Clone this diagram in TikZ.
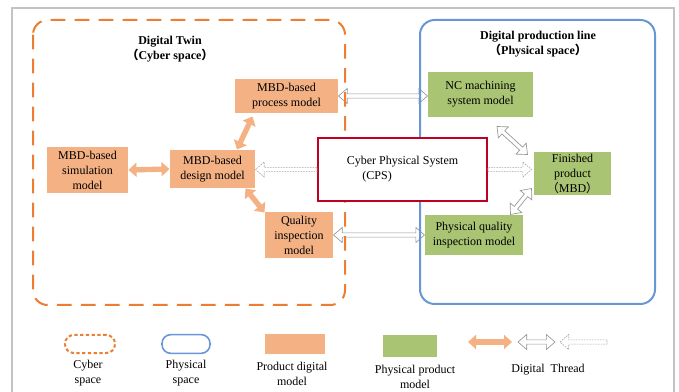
\documentclass[tikz,border=0pt]{standalone}
\usepackage{fontspec}
\setmainfont{Liberation Serif}
\newfontfamily\cjk{Noto Sans CJK SC}
\usetikzlibrary{arrows.meta,calc}

\definecolor{cyberorange}{RGB}{237,125,49}
\definecolor{digorange}{RGB}{244,177,131}
\definecolor{physgreen}{RGB}{169,196,115}
\definecolor{physblue}{RGB}{105,150,215}
\definecolor{cpsred}{RGB}{192,0,32}
\definecolor{threadgray}{RGB}{150,150,150}
\definecolor{framegray}{RGB}{195,195,195}

\newcommand{\figfont}{\fontsize{9}{11.25}\selectfont}
\newcommand{\lp}{{\cjk （}}
\newcommand{\rp}{{\cjk ）}}

% outlined block arrow, heads at both ends
\newcommand{\dblarrow}[3][]{%
  \draw [#1] (#2)
    -- ($($(#2)!6.5pt!(#3)$)!5.6pt!90:(#3)$)
    -- ($($(#2)!6.5pt!(#3)$)!1.6pt!90:(#3)$)
    -- ($($(#3)!6.5pt!(#2)$)!1.6pt!90:(#3)$)
    -- ($($(#3)!6.5pt!(#2)$)!5.6pt!90:(#3)$)
    -- (#3)
    -- ($($(#3)!6.5pt!(#2)$)!5.6pt!-90:(#3)$)
    -- ($($(#3)!6.5pt!(#2)$)!1.6pt!-90:(#3)$)
    -- ($($(#2)!6.5pt!(#3)$)!1.6pt!-90:(#3)$)
    -- ($($(#2)!6.5pt!(#3)$)!5.6pt!-90:(#3)$)
    -- cycle ;}
% outlined block arrow, head at the second end
\newcommand{\sglarrow}[3][]{%
  \draw [#1] ($(#2)!1.6pt!90:(#3)$)
    -- ($($(#3)!6.5pt!(#2)$)!1.6pt!90:(#3)$)
    -- ($($(#3)!6.5pt!(#2)$)!5.6pt!90:(#3)$)
    -- (#3)
    -- ($($(#3)!6.5pt!(#2)$)!5.6pt!-90:(#3)$)
    -- ($($(#3)!6.5pt!(#2)$)!1.6pt!-90:(#3)$)
    -- ($(#2)!1.6pt!-90:(#3)$)
    -- cycle ;}

\tikzset{every picture/.style={line width=0.75pt}}
\tikzset{
  digbox/.style={fill=digorange, inner sep=0pt, align=center, font=\figfont},
  physbox/.style={fill=physgreen, inner sep=0pt, align=center, font=\figfont},
  legtext/.style={align=center, font=\figfont},
  titletext/.style={align=center, font=\figfont\bfseries},
  digarrow/.style={draw=digorange, line width=4pt,
    {Triangle[length=6pt,width=10.5pt]}-{Triangle[length=6pt,width=10.5pt]}},
  hollowarrow/.style={draw=threadgray, line width=0.5pt, line join=miter},
  dotarrow/.style={draw=threadgray!85, line width=0.5pt, line join=miter,
    dash pattern=on 1.2pt off 0.8pt}
}

\begin{document}
\begin{tikzpicture}[x=0.75pt,y=0.75pt,yscale=-1,xscale=1]
\useasboundingbox (0,0) rectangle (679,392);

%Frame
\draw [framegray, line width=1pt] (12,392) -- (12,8) -- (674,8) -- (674,392) ;

%Shape: Rectangle
\draw (286.5,96) node (proc) [digbox, minimum width=77.25pt, minimum height=25.5pt] {MBD-based\\process model};
%Shape: Rectangle
\draw (87.5,170) node (sim) [digbox, minimum width=60.75pt, minimum height=34.5pt] {MBD-based\\simulation\\model};
%Shape: Rectangle
\draw (212.5,169) node (design) [digbox, minimum width=63.75pt, minimum height=28.5pt] {MBD-based\\design model};
%Shape: Rectangle
\draw (299,235) node (qual) [digbox, minimum width=51pt, minimum height=34.5pt] {Quality\\inspection\\model};

%Shape: Rectangle
\draw (480.5,94.5) node (nc) [physbox, minimum width=78.75pt, minimum height=33.75pt] {NC machining\\system model};
%Shape: Rectangle
\draw (572.5,173.5) node (fin) [physbox, minimum width=57.75pt, minimum height=32.25pt] {Finished\\product\\\lp MBD\rp};
%Shape: Rectangle
\draw (474,235) node (pqual) [physbox, minimum width=73.5pt, minimum height=30pt] {Physical quality\\inspection model};

%Hollow links (drawn under the space borders)
\coordinate (pn) at (proc.east -| nc.west);
\coordinate (qp) at (qual.east -| pqual.west);
\dblarrow[hollowarrow]{proc.east}{pn}
\dblarrow[hollowarrow]{qual.east}{qp}

%Shape: Cyber space
\draw [cyberorange, line width=1.5pt, dash pattern=on 11pt off 7pt, rounded corners=11pt] (33,20) rectangle (345,305) ;
%Shape: Physical space
\draw [physblue, line width=1.5pt, rounded corners=11pt] (420,20) rectangle (655,304) ;

% Text Node
\draw (170,49) node (twin) [titletext] {Digital Twin\\\lp Cyber space\rp};
% Text Node
\draw (538,44) node (line) [titletext] {Digital production line\\\lp Physical space\rp};

%Shape: CPS
\draw (402.5,169.5) node (cps) [draw=cpsred, line width=1.5pt, fill=white, minimum width=126.75pt, minimum height=47.25pt, align=left, font=\figfont] {Cyber Physical System\\\hspace{1.3em}(CPS)};

%Digital thread
\coordinate (dp1) at ($(design.north)+(24.5,0)$);
\coordinate (dp2) at ($(proc.south)+(-34,3)$);
\coordinate (dq1) at ($(design.south east)+(-10,0)$);
\coordinate (dq2) at ($(qual.north west)+(0,1)$);
\coordinate (nf1) at ($(nc.south)+(16.5,9)$);
\coordinate (nf2) at ($(fin.north west)+(-6,3)$);
\coordinate (pf1) at ($(pqual.north east)+(-13,0)$);
\coordinate (pf2) at ($(fin.south west)+(-2,-7)$);
\coordinate (cd) at (cps.west -| design.east);
\coordinate (cf) at ($(cps.east -| fin.west)+(-2,0)$);
\draw [digarrow] (sim.east) -- (design.west) ;
\draw [digarrow] (dp1) -- (dp2) ;
\draw [digarrow] (dq1) -- (dq2) ;
\dblarrow[hollowarrow]{nf1}{nf2}
\dblarrow[hollowarrow]{pf1}{pf2}
\sglarrow[dotarrow]{cps.west}{cd}
\sglarrow[dotarrow]{cps.east}{cf}

%Legend
\draw (90,344) node (legcyber) [draw=cyberorange, line width=1.5pt, dash pattern=on 2.5pt off 1.8pt, rounded corners=6.5pt, minimum width=37.5pt, minimum height=13.5pt] {};
\draw (186,344) node (legphys) [draw=physblue, line width=1.2pt, rounded corners=6.5pt, minimum width=36pt, minimum height=14pt] {};
\draw (295,344) node (legdig) [fill=digorange, minimum width=45pt, minimum height=15pt] {};
\draw (410,346) node (legpp) [fill=physgreen, minimum width=40.5pt, minimum height=16.5pt] {};
\coordinate (a1) at (468,342);
\coordinate (a2) at (512,342);
\coordinate (b1) at (518,342);
\coordinate (b2) at (555,342);
\coordinate (c1) at (607,342);
\coordinate (c2) at (560,342);
\draw [digarrow] (a1) -- (a2) ;
\dblarrow[hollowarrow]{b1}{b2}
\sglarrow[dotarrow]{c1}{c2}

% Text Node
\draw (88,373) node (tcyber) [legtext] {Cyber\\space};
% Text Node
\draw (186,373) node (tphys) [legtext] {Physical\\space};
% Text Node
\draw (292,374) node (tdig) [legtext] {Product digital\\model};
% Text Node
\draw (415,377) node (tpp) [legtext] {Physical product\\model};
% Text Node
\draw (548,370) node (tthread) [legtext] {Digital\ \ Thread};

\end{tikzpicture}
\end{document}
